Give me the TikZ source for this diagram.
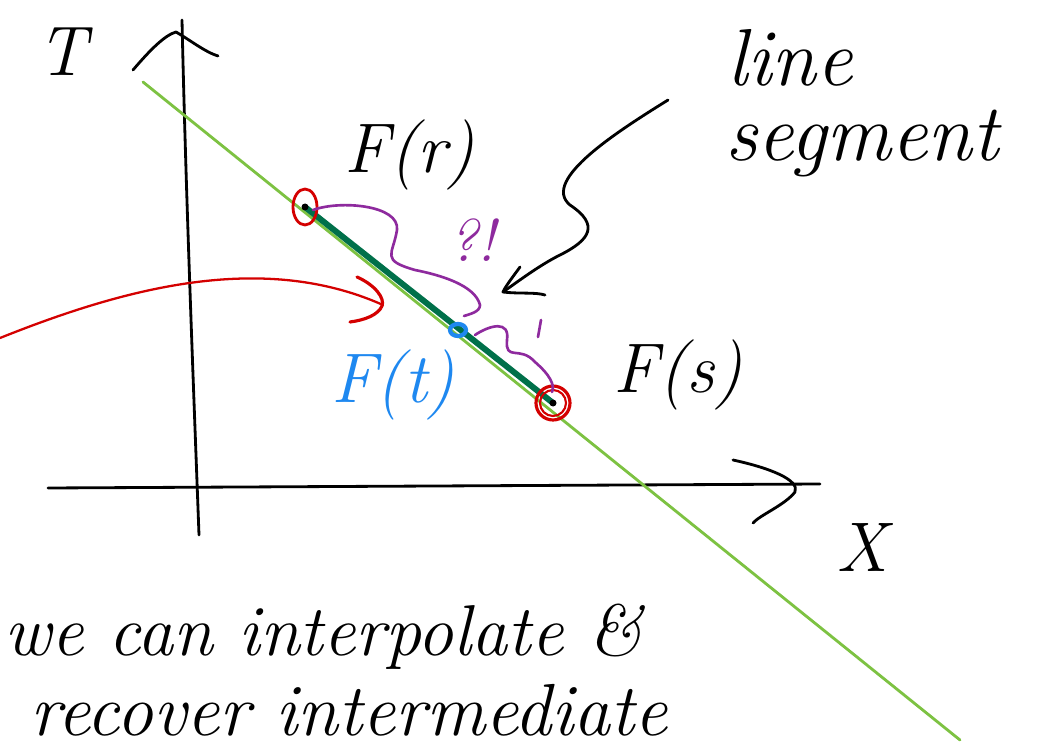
\documentclass[tikz,border=0pt]{standalone}
\usepackage{tikz}
\usetikzlibrary{positioning,arrows.meta,calc}
\usepackage{xcolor}
\definecolor{linegreen}{HTML}{7DC242}
\definecolor{seggreen}{HTML}{00704A}
\definecolor{pinkred}{HTML}{D40000}
\definecolor{skyblue}{HTML}{1E88F0}
\definecolor{wavepurple}{HTML}{8E2A9E}
\begin{document}
\begin{tikzpicture}[x=0.02cm,y=-0.02cm,line cap=round,line join=round,
  ink/.style={black,line width=1.6pt},
  handtext/.style={font=\fontsize{40}{44}\selectfont\itshape,inner sep=0pt}]
\useasboundingbox (0,0) rectangle (1046,750);
\clip (0,0) rectangle (1046,750);
\fill[white] (0,0) rectangle (1046,750);
% axes
\draw[ink] (182,20) .. controls (186,200) and (194,400) .. (199,535);
\draw[ink] (133,70) .. controls (150,50) and (165,35) .. (176,32) .. controls (190,40) and (205,52) .. (218,56);
\draw[ink] (48,488) -- (820,484);
\draw[ink] (733,460) .. controls (770,468) and (800,480) .. (795,492) .. controls (785,505) and (760,515) .. (753,523);
\node[handtext] (ylab) at (62,52) {T};
\node[handtext] (xlab) at (862,547) {X};
% the line and the segment
\draw[linegreen,line width=1.6pt] (143,82) -- (960,740);
\coordinate (r) at (305,207);
\coordinate (s) at (553,403);
\coordinate (t) at (458,330);
\draw[seggreen,line width=3.4pt] (r) -- (s);
\draw[pinkred,line width=1.6pt] (r) ellipse [x radius=12,y radius=18];
\draw[pinkred,line width=1.8pt] (s) circle (17);
\draw[pinkred,line width=1.2pt] (s) circle (13);
\fill[black] (r) circle (3.5);
\fill[black] (s) circle (3.5);
\draw[skyblue,line width=2.4pt] (t) ellipse [x radius=8,y radius=6];
% wiggles between the points
\draw[wavepurple,line width=1.5pt] (313,210) .. controls (340,200) and (400,205) .. (397,230)
  .. controls (393,255) and (380,260) .. (415,270) .. controls (440,275) and (475,285) .. (480,305)
  .. controls (480,312) and (470,314) .. (464,316);
\draw[wavepurple,line width=1.5pt] (475,335) .. controls (490,325) and (510,320) .. (507,340)
  .. controls (505,362) and (520,345) .. (535,362) .. controls (550,375) and (555,385) .. (552,392);
\node[handtext,wavepurple,font=\fontsize{34}{38}\selectfont\itshape] (huh) at (472,240) {?!};
\draw[wavepurple,line width=1.5pt] (541,320) -- (538,337);
% the red arrow
\draw[pinkred,line width=1.3pt] (0,338) .. controls (120,290) and (260,250) .. (383,305);
\draw[pinkred,line width=1.8pt] (357,277) .. controls (375,285) and (385,298) .. (382,306) .. controls (378,315) and (365,320) .. (350,322);
% labels
\node[handtext] (Fr) at (410,155) {F(r)};
\node[handtext] (Fs) at (678,375) {F(s)};
\node[handtext,skyblue] (Ft) at (393,385) {F(t)};
\node[handtext,font=\fontsize{46}{50}\selectfont\itshape] (segtop) at (790,58) {line};
\node[handtext,font=\fontsize{46}{50}\selectfont\itshape] (segbot) at (862,143) {segment};
% squiggly arrow from the label
\coordinate (tip) at (503,292);
\draw[ink] (668,100) .. controls (620,130) and (540,180) .. (570,205)
  .. controls (600,225) and (590,240) .. (560,255) .. controls (540,265) and (520,280) .. (tip);
\draw[ink] (520,267) .. controls (512,278) and (505,287) .. (tip) .. controls (520,294) and (535,292) .. (545,295);
% notes below
\node[handtext,anchor=base west,font=\fontsize{41}{45}\selectfont\itshape] (note1) at (4,655) {we can interpolate \&};
\node[handtext,anchor=base west,font=\fontsize{42}{46}\selectfont\itshape] (note2) at (30,735) {recover intermediate};
\end{tikzpicture}
\end{document}
